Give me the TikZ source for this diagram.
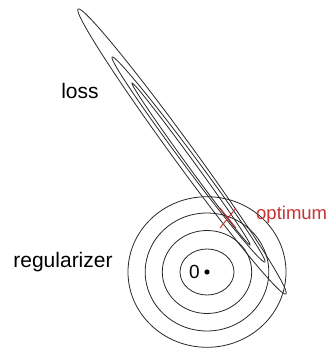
\documentclass[tikz,border=0pt]{standalone}
\usepackage{fontspec}
\setmainfont{Liberation Sans}
\usetikzlibrary{positioning}
\definecolor{ContourColor}{RGB}{40,40,40}
\definecolor{OptColor}{RGB}{200,50,50}
\tikzset{
  contour/.style={draw=ContourColor, line width=0.8pt},
  lbl/.style={font=\fontsize{21}{25}\selectfont, inner sep=0pt}
}
\begin{document}
\begin{tikzpicture}[x=1pt, y=1pt]
    \useasboundingbox (0,0) rectangle (329,349);
    \def\cx{207} \def\cy{77}
    % Regularizer contours
    \coordinate (origin) at (\cx,\cy);
    \foreach \rx/\ry in {27/23, 44.7/41.5, 61.8/59, 79/75.3} {
        \draw[contour] (origin) ellipse [x radius=\rx, y radius=\ry];
    }
    \fill (origin) circle (2.6);
    \node[lbl, font=\fontsize{19}{23}\selectfont, left=7pt of origin] (zero) {0};
    % Loss contours
    \draw[contour, rotate around={-53.9:(182,197.5)}] (182,197.5) ellipse [x radius=176.4, y radius=10.5];
    \draw[contour, rotate around={-53.3:(188.5,189.5)}] (188.5,189.5) ellipse [x radius=127.9, y radius=6.5];
    \draw[contour, rotate around={-53.9:(191,185)}] (191,185) ellipse [x radius=100.2, y radius=3.5];
    % Optimum
    \coordinate (opt) at (228,131);
    \draw[OptColor, line width=1pt] ([shift={(-8,-10)}]opt) -- ([shift={(8,10)}]opt);
    \draw[OptColor, line width=1pt] ([shift={(-8,10)}]opt) -- ([shift={(8,-10)}]opt);
    \node[lbl, OptColor, font=\fontsize{18.5}{22}\selectfont, anchor=west] (optlbl) at (256,134) {optimum};
    % Labels
    \node[lbl] (loss) at (80,258) {loss};
    \node[lbl] (reg) at (63,87) {regularizer};
\end{tikzpicture}
\end{document}
